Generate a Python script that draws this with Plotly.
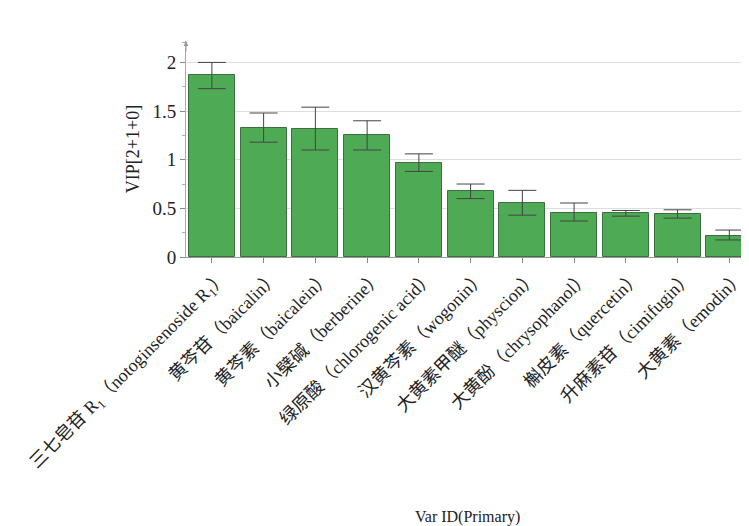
import plotly.graph_objects as go

categories = [
    "三七皂苷 R<sub>1</sub>（notoginsenoside R<sub>1</sub>）",
    "黄芩苷（baicalin）",
    "黄芩素（baicalein）",
    "小檗碱（berberine）",
    "绿原酸（chlorogenic acid）",
    "汉黄芩素（wogonin）",
    "大黄素甲醚（physcion）",
    "大黄酚（chrysophanol）",
    "槲皮素（quercetin）",
    "升麻素苷（cimifugin）",
    "大黄素（emodin）",
]
vip = [1.87, 1.33, 1.32, 1.25, 0.97, 0.68, 0.56, 0.455, 0.45, 0.44, 0.22]
err_upper = [2.00, 1.48, 1.54, 1.40, 1.06, 0.75, 0.685, 0.555, 0.478, 0.485, 0.277]
err_lower = [1.73, 1.18, 1.10, 1.10, 0.88, 0.60, 0.43, 0.37, 0.42, 0.40, 0.175]

xs = list(range(len(categories)))
plus = [u - v for u, v in zip(err_upper, vip)]
minus = [v - l for v, l in zip(vip, err_lower)]

font_family = "Liberation Serif, Noto Sans CJK SC, serif"

fig = go.Figure()
fig.add_trace(go.Bar(
    x=xs, y=vip, width=0.89,
    marker=dict(color="#4faa55", line=dict(color="#3d6e40", width=1)),
    error_y=dict(type="data", symmetric=False, array=plus, arrayminus=minus,
                 color="#444444", thickness=1, width=14),
    showlegend=False,
))

fig.add_annotation(x=0, y=1, xref="paper", yref="paper", ax=0, ay=12,
                   showarrow=True, arrowhead=2, arrowsize=1, arrowwidth=1,
                   arrowcolor="#999999", text="")
fig.add_annotation(x=0.5, y=0, xref="paper", yref="paper", yshift=-260,
                   text="Var ID(Primary)", showarrow=False, yanchor="middle",
                   font=dict(size=16, family=font_family, color="#222222"))

fig.update_layout(
    width=741, height=518,
    margin=dict(l=178, r=0, t=33, b=269),
    plot_bgcolor="white", paper_bgcolor="white",
    font=dict(family=font_family, color="#222222"),
    bargap=0,
)
fig.update_xaxes(
    range=[-0.5, 10.38],
    tickmode="array", tickvals=xs, ticktext=categories,
    tickangle=-45, tickfont=dict(size=18, family=font_family),
    ticks="outside", ticklen=5, tickcolor="#888888",
    ticklabelshift=10, ticklabelstandoff=-4,
    showline=True, linecolor="#999999", linewidth=1,
    showgrid=False, zeroline=False,
    automargin=False,
)
fig.update_yaxes(
    range=[0, 2.22],
    tickmode="array", tickvals=[0, 0.5, 1, 1.5, 2], ticktext=["0", "0.5", "1", "1.5", "2"],
    tickfont=dict(size=19, family=font_family),
    ticks="outside", ticklen=5, tickcolor="#888888",
    minor=dict(tickvals=[0.25, 0.75, 1.25, 1.75, 2.2], ticks="outside", ticklen=3,
               tickcolor="#aaaaaa", showgrid=False),
    showline=True, linecolor="#aaaaaa", linewidth=1,
    showgrid=True, gridcolor="#dddddd", gridwidth=1,
    zeroline=False,
    title=dict(text="VIP[2+1+0]", font=dict(size=18, family=font_family), standoff=8),
    automargin=False,
)

fig.write_html("out.html")
